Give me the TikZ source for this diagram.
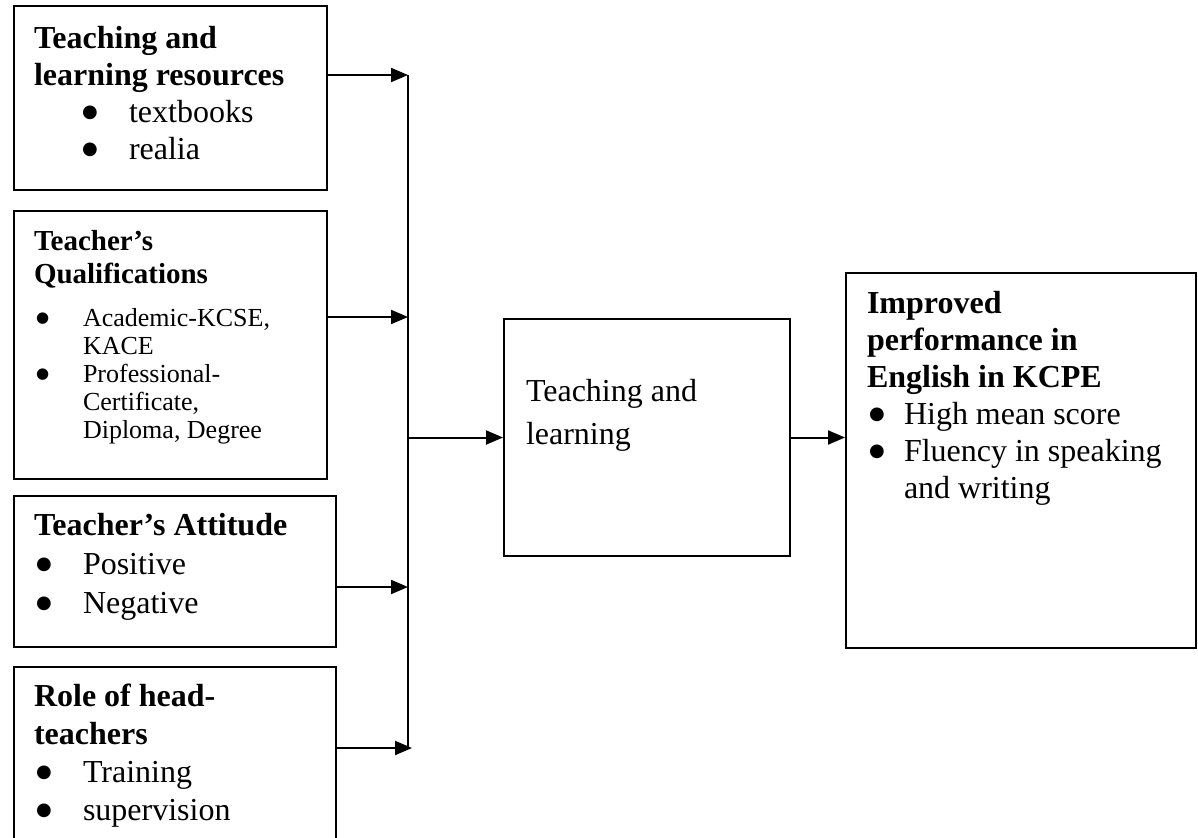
\documentclass[tikz,border=0pt]{standalone}
\usepackage{fontspec}
\setmainfont{Liberation Serif}
\newfontfamily\dejavu{DejaVu Sans}
\usetikzlibrary{arrows.meta,positioning}
\newcommand{\bul}[3][18]{\hspace*{#2}\makebox[#3][l]{\dejavu\fontsize{#1}{#1}\selectfont\raisebox{0.26em}{●}}}
\newcommand{\fs}[2]{\fontsize{#1}{#2}\selectfont}
\begin{document}
\begin{tikzpicture}[x=1pt,y=-1pt,line width=2pt,
  box/.style={draw,anchor=north west,inner sep=0pt},
  txt/.style={inner sep=0pt,align=left},
  arr/.style={-{Triangle[length=17pt,width=14pt]}}]
  \useasboundingbox (0,0) rectangle (1198,837); \clip (0,0) rectangle (1198,837);
  \node[box,minimum width=313pt,minimum height=184pt] (res) at (13,5) {};
  \node[box,minimum width=313pt,minimum height=268pt] (qual) at (13,210) {};
  \node[box,minimum width=322pt,minimum height=151pt] (att) at (13,495) {};
  \node[box,minimum width=322pt,minimum height=234pt] (head) at (13,666) {};
  \node[box,minimum width=286pt,minimum height=237pt] (tl) at (503,318) {};
  \node[box,minimum width=350pt,minimum height=375pt] (perf) at (845,272) {};
  \node[txt,font=\fs{32}{37},below right=20pt and 20pt of res.north west] (restxt) {\textbf{Teaching and}\\ \textbf{learning resources}\\ \bul{48pt}{47pt}textbooks\\ \bul{48pt}{47pt}realia};
  \node[txt,font=\fs{26}{28},below right=19pt and 20pt of qual.north west] (qualtxt) {{\fs{29}{32}\bfseries Teacher’s}\\[5pt] {\fs{29}{32}\bfseries Qualifications}\\[15pt]
    \bul[15]{2pt}{47pt}Academic-KCSE,\\ \hspace*{49pt}KACE\\ \bul[15]{2pt}{47pt}Professional-\\ \hspace*{49pt}Certificate,\\ \hspace*{49pt}Diploma, Degree};
  \node[txt,font=\fs{32}{39},below right=17pt and 20pt of att.north west] (atttxt) {\textbf{Teacher’s Attitude}\\ \bul{2pt}{47pt}Positive\\ \bul{2pt}{47pt}Negative};
  \node[txt,font=\fs{32}{38},below right=17pt and 20pt of head.north west] (headtxt) {\textbf{Role of head-}\\ \textbf{teachers}\\ \bul{2pt}{47pt}Training\\ \bul{2pt}{47pt}supervision};
  \node[txt,font=\fs{32}{43},below right=60pt and 22pt of tl.north west] (tltxt) {Teaching and\\learning};
  \node[txt,font=\fs{32}{37},below right=18pt and 21pt of perf.north west] (perftxt) {\textbf{Improved}\\ \textbf{performance in}\\ \textbf{English in KCPE}\\
    \bul{2pt}{35pt}High mean score\\ \bul{2pt}{35pt}Fluency in speaking\\ \hspace*{37pt}and writing};
  \coordinate (j1) at (408,75); \coordinate (j2) at (408,317); \coordinate (j3) at (408,587); \coordinate (j4) at (412,748);
  \coordinate (jm) at (j1 |- tl.west);
  \draw (j1) -- (j1 |- j4);
  \draw[arr] (res.east |- j1) -- (j1); \draw[arr] (qual.east |- j2) -- (j2);
  \draw[arr] (att.east |- j3) -- (j3); \draw[arr] (head.east |- j4) -- (j4);
  \draw[arr] (jm) -- (tl.west); \draw[arr] (tl.east) -- (tl.east -| perf.west);
\end{tikzpicture}
\end{document}
